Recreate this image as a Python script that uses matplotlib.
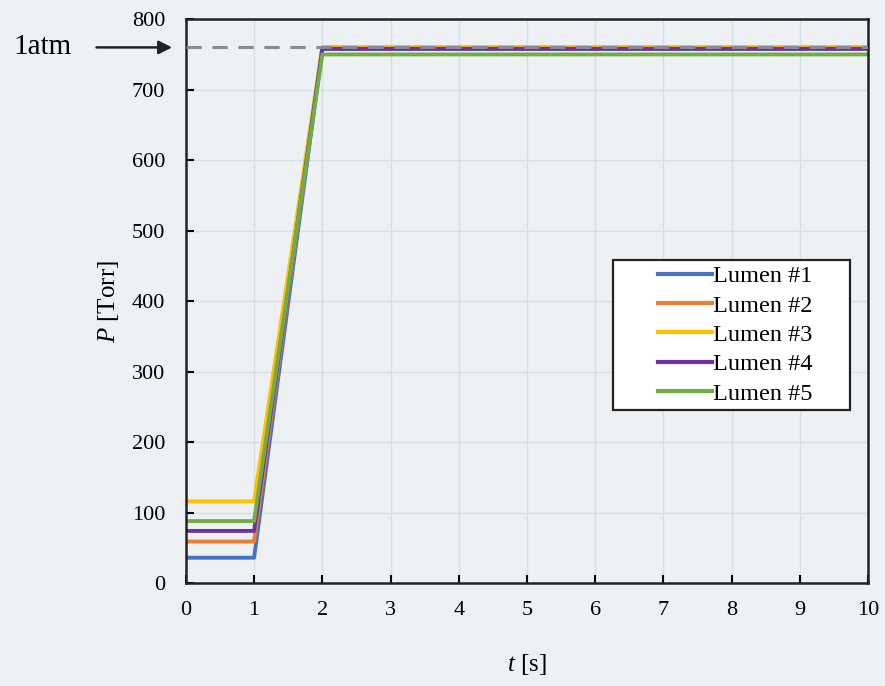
import matplotlib.pyplot as plt
from matplotlib.patches import Rectangle

plt.rcParams['font.family'] = ['Liberation Serif', 'DejaVu Serif']
plt.rcParams['mathtext.fontset'] = 'custom'
plt.rcParams['mathtext.it'] = 'Liberation Serif:italic'
plt.rcParams['mathtext.rm'] = 'Liberation Serif'

# time points (s)
t = [0, 1, 2, 10]

# pressure per lumen (Torr)
lumen1 = [36, 36, 758, 758]
lumen2 = [59, 59, 760, 760]
lumen3 = [116, 116, 760, 760]
lumen4 = [74, 74, 758, 758]
lumen5 = [88, 88, 750, 750]

series = [lumen1, lumen2, lumen3, lumen4, lumen5]
labels = ['Lumen #1', 'Lumen #2', 'Lumen #3', 'Lumen #4', 'Lumen #5']
colors = ['#4472C4', '#ED7D31', '#FFC000', '#7030A0', '#70AD47']

atm = 760

bg = '#eef1f4'
fig = plt.figure(figsize=(8.85, 6.86), dpi=100, facecolor=bg)
ax = fig.add_axes([0.210, 0.150, 0.771, 0.822], facecolor=bg)

for y, lab, c in zip(series, labels, colors):
    ax.plot(t, y, color=c, lw=2.8, label=lab)

ax.axhline(atm, color='#8a8a93', lw=2.2, ls=(0, (5, 3.5)), zorder=5)

ax.set_xlim(0, 10)
ax.set_ylim(0, 800)
ax.set_xticks(range(0, 11))
ax.set_yticks(range(0, 801, 100))
ax.grid(True, color='#d3e0e8', lw=1)
ax.set_axisbelow(True)
ax.tick_params(direction='in', length=6, width=1.5, labelsize=16)
ax.tick_params(axis='y', pad=15)
ax.tick_params(axis='x', pad=13)
for s in ax.spines.values():
    s.set_linewidth(1.8)
    s.set_color('#222222')

ax.set_xlabel(r'$t$ [s]', fontsize=18, labelpad=23)
ax.set_ylabel(r'$P$ [Torr]', fontsize=18, labelpad=8)

# legend box (wider than its content, as in the original)
box = Rectangle((0.626, 0.307), 0.348, 0.266, transform=ax.transAxes,
                facecolor='white', edgecolor='#222222', lw=1.6, zorder=6)
ax.add_patch(box)
leg = ax.legend(loc='center', bbox_to_anchor=(0.805, 0.44), fontsize=17.5,
                frameon=False, handlelength=2.2, handletextpad=0.05,
                labelspacing=0.3, borderpad=0, borderaxespad=0)
leg.set_zorder(7)
for line in leg.get_lines():
    line.set_linewidth(3)

# "1atm" marker with arrow
ax.annotate('', xy=(-0.016, atm), xytext=(-0.135, atm),
            xycoords=('axes fraction', 'data'),
            textcoords=('axes fraction', 'data'),
            arrowprops=dict(arrowstyle='-|>', color='#222222', lw=1.8,
                            mutation_scale=20),
            annotation_clip=False)
ax.text(-0.21, atm, '1atm', transform=ax.get_yaxis_transform(),
        fontsize=21, ha='center', va='center')

fig.savefig('out.png', dpi=100, facecolor=bg)
